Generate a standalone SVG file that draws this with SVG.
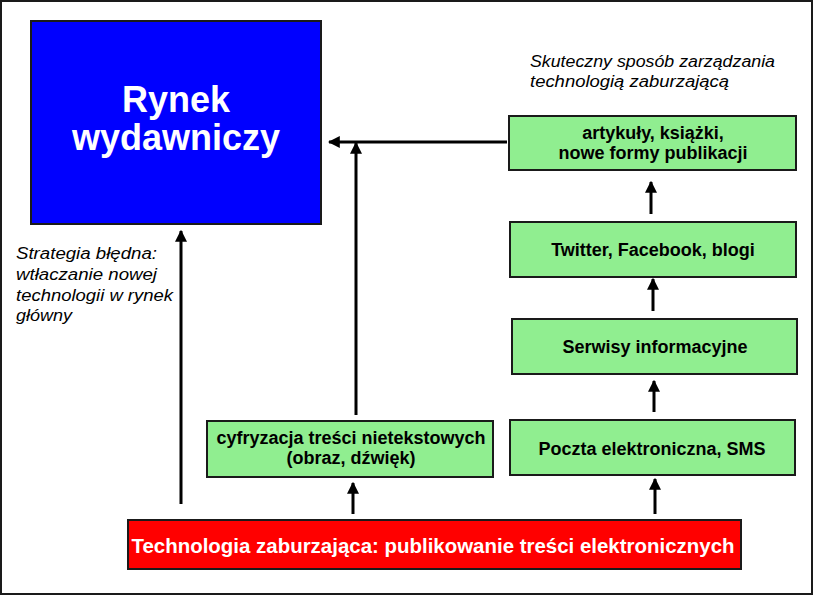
<svg xmlns="http://www.w3.org/2000/svg" width="815" height="596" viewBox="0 0 815 596">
<style>
.box{stroke:#1a1a1a;stroke-width:2}
.green{fill:#90EE90}
.bt{font-family:"Liberation Sans",Arial,sans-serif;font-weight:bold;font-size:18px;fill:#000;text-anchor:middle}
.wt{font-family:"Liberation Sans",Arial,sans-serif;font-weight:bold;fill:#fff;text-anchor:middle}
.it{font-family:"Liberation Sans",Arial,sans-serif;font-style:italic;font-size:16px;fill:#000}
.con{stroke:#000;stroke-width:3;fill:none;marker-end:url(#ah)}
</style>
<defs>
<marker id="ah" markerUnits="userSpaceOnUse" markerWidth="12" markerHeight="12" viewBox="0 0 10 10" refX="9" refY="5" orient="auto">
<path d="M0,0 L10,5 L0,10 z" fill="#000"/>
</marker>
</defs>
<rect x="1" y="1" width="811" height="593" fill="#fff" stroke="#1a1a1a" stroke-width="2"/>

<g id="rynek">
<rect class="box" x="31" y="21" width="290" height="203" fill="#0000FF"/>
<text class="wt" x="176" y="112" font-size="36">Rynek</text>
<text class="wt" x="176" y="150" font-size="36">wydawniczy</text>
</g>

<g id="label-skuteczny">
<text class="it" x="530" y="67" textLength="245" lengthAdjust="spacingAndGlyphs">Skuteczny sposób zarządzania</text>
<text class="it" x="530" y="87" textLength="199" lengthAdjust="spacingAndGlyphs">technologią zaburzającą</text>
</g>

<g id="label-strategia">
<text class="it" x="16" y="259" textLength="141" lengthAdjust="spacingAndGlyphs">Strategia błędna:</text>
<text class="it" x="16" y="280" textLength="141" lengthAdjust="spacingAndGlyphs">wtłaczanie nowej</text>
<text class="it" x="16" y="301" textLength="157" lengthAdjust="spacingAndGlyphs">technologii w rynek</text>
<text class="it" x="16" y="321" textLength="56" lengthAdjust="spacingAndGlyphs">główny</text>
</g>

<g id="artykuly">
<rect class="box green" x="509" y="116" width="287" height="54"/>
<text class="bt" x="653" y="139">artykuły, książki,</text>
<text class="bt" x="653" y="159">nowe formy publikacji</text>
</g>

<g id="twitter">
<rect class="box green" x="510" y="222" width="286" height="55"/>
<text class="bt" x="653" y="256">Twitter, Facebook, blogi</text>
</g>

<g id="serwisy">
<rect class="box green" x="512" y="319" width="285" height="55"/>
<text class="bt" x="655" y="353">Serwisy informacyjne</text>
</g>

<g id="poczta">
<rect class="box green" x="510" y="420" width="285" height="55"/>
<text class="bt" x="652" y="455">Poczta elektroniczna, SMS</text>
</g>

<g id="cyfryzacja">
<rect class="box green" x="207" y="421" width="286" height="56"/>
<text class="bt" x="351" y="444" font-size="18.5">cyfryzacja treści nietekstowych</text>
<text class="bt" x="351" y="464" font-size="18.5">(obraz, dźwięk)</text>
</g>

<g id="technologia">
<rect class="box" x="128" y="520" width="613" height="49" fill="#FF0000"/>
<text class="wt" x="433" y="553" font-size="20" textLength="603" lengthAdjust="spacingAndGlyphs">Technologia zaburzająca: publikowanie treści elektronicznych</text>
</g>

<g id="connectors">
<line class="con" x1="507" y1="142" x2="329" y2="142"/>
<line class="con" x1="356" y1="415" x2="356" y2="143"/>
<line class="con" x1="181" y1="504" x2="181" y2="231"/>
<line class="con" x1="353" y1="514" x2="353" y2="483"/>
<line class="con" x1="651" y1="214" x2="651" y2="182"/>
<line class="con" x1="653" y1="311" x2="653" y2="279"/>
<line class="con" x1="654" y1="412" x2="654" y2="381"/>
<line class="con" x1="655" y1="514" x2="655" y2="479"/>
</g>
</svg>
